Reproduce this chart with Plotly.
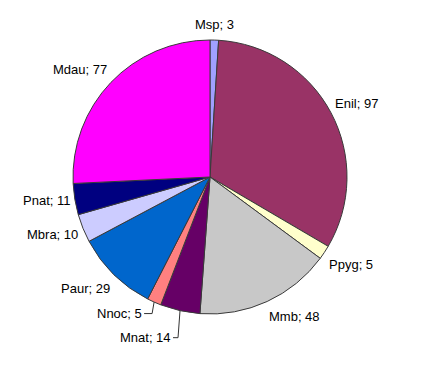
import math
import plotly.graph_objects as go

labels = ["Msp", "Enil", "Ppyg", "Mmb", "Mnat", "Nnoc", "Paur", "Mbra", "Pnat", "Mdau"]
values = [3, 97, 5, 48, 14, 5, 29, 10, 11, 77]
colors = ["#A0A0FF", "#993366", "#FFFFCC", "#C8C8C8", "#660066",
          "#FF8080", "#0066CC", "#CCCCFF", "#000080", "#FF00FF"]

# layout / style (pixels)
W, H = 426, 373
cx, cy, r = 210, 177, 137
RX_LBL, RY_LBL = 142, 146          # label anchor distance from centre
HALF_H = 7                          # half label height
LEADER_LABELS = {"Nnoc": (-12, 11.5), "Mnat": (-9, 27)}   # label offsets from slice edge (px)
FONT = dict(family="Liberation Sans, Arial, sans-serif", size=13, color="black")


def px2paper(x, y):
    return x / W, 1 - y / H


fig = go.Figure(go.Pie(
    labels=labels,
    values=values,
    sort=False,
    direction="clockwise",
    rotation=0,
    marker=dict(colors=colors, line=dict(color="#3a3a3a", width=1)),
    textinfo="none",
    showlegend=False,
    domain=dict(x=[(cx - r) / W, (cx + r) / W], y=[1 - (cy + r) / H, 1 - (cy - r) / H]),
    hoverinfo="label+value",
))

total = sum(values)
cum = 0
annotations = []
shapes = []
for lab, v in zip(labels, values):
    mid = (cum + v / 2) / total * 2 * math.pi
    cum += v
    dx, dy = math.sin(mid), -math.cos(mid)
    text = f"{lab}; {v}"
    if lab in LEADER_LABELS:
        ex, ey = cx + r * dx, cy + r * dy
        ox, oy = LEADER_LABELS[lab]
        lx, ly = ex + ox, ey + oy
        x, y = px2paper(lx, ly)
        annotations.append(dict(x=x, y=y, xref="paper", yref="paper", text=text,
                                showarrow=False, xanchor="right", yanchor="middle",
                                borderpad=0, borderwidth=0, font=FONT))
        pts = [(lx + 2, ly), (ex - 2, ly), (ex, ey)]
        path = "M " + " L ".join(f"{px2paper(a, b)[0]},{px2paper(a, b)[1]}" for a, b in pts)
        shapes.append(dict(type="path", path=path, xref="paper", yref="paper",
                           line=dict(color="#333333", width=1)))
        continue
    px_, py_ = cx + RX_LBL * dx, cy + RY_LBL * dy
    xanchor = "left" if dx > 0.15 else ("right" if dx < -0.15 else "center")
    s = min(max((abs(dy) - 0.25) / 0.3, 0.0), 1.0)
    py_ += math.copysign(s * HALF_H, dy)
    x, y = px2paper(px_, py_)
    annotations.append(dict(x=x, y=y, xref="paper", yref="paper", text=text,
                            showarrow=False, xanchor=xanchor, yanchor="middle",
                            borderpad=0, borderwidth=0, font=FONT))

fig.update_layout(
    width=W, height=H,
    margin=dict(l=0, r=0, t=0, b=0),
    paper_bgcolor="white",
    plot_bgcolor="white",
    annotations=annotations,
    shapes=shapes,
)

fig.write_html("out.html")
